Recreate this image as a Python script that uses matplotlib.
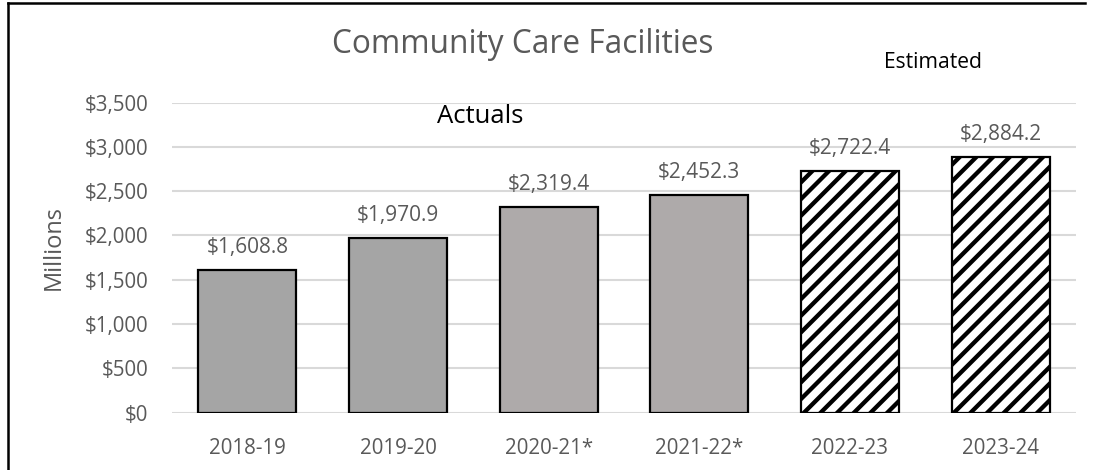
import matplotlib
matplotlib.use("Agg")
import matplotlib.pyplot as plt
from matplotlib.lines import Line2D

# Fiscal years and spending (millions of dollars)
years = ["2018-19", "2019-20", "2020-21*", "2021-22*", "2022-23", "2023-24"]
values = [1608.8, 1970.9, 2319.4, 2452.3, 2722.4, 2884.2]
estimated = [False, False, False, False, True, True]
fill_colors = ["#a5a5a5", "#a5a5a5", "#aeaaaa", "#aeaaaa", "white", "white"]

y_ticks = [0, 500, 1000, 1500, 2000, 2500, 3000, 3500]

plt.rcParams["font.family"] = ["Open Sans", "DejaVu Sans"]
plt.rcParams["hatch.linewidth"] = 3.1
plt.rcParams["hatch.color"] = "black"

W, H = 1093, 470
fig = plt.figure(figsize=(W / 100, H / 100), dpi=100)

left, right, top, bottom = 172, 1076, 102.5, 412.6
ax = fig.add_axes([left / W, 1 - bottom / H, (right - left) / W, (bottom - top) / H])

grey_text = "#595959"
x = range(len(years))
for i, (v, est, fc) in enumerate(zip(values, estimated, fill_colors)):
    ax.bar(i, v, width=0.65, color=fc, edgecolor="black", linewidth=1.6,
           hatch="//" if est else None, zorder=3)
    ax.annotate(f"${v:,.1f}", (i, v), xytext=(0, 12.3), textcoords="offset points",
                ha="center", va="baseline", fontsize=15, color=grey_text)

ax.set_xlim(-0.5, len(years) - 0.5)
ax.set_ylim(0, 3500)
ax.set_yticks(y_ticks)
ax.set_yticklabels([f"${t:,}" for t in y_ticks])
ax.set_xticks(list(x))
ax.set_xticklabels(years)
ax.tick_params(axis="both", length=0, labelsize=14.8, colors=grey_text)
ax.tick_params(axis="y", pad=17)
ax.tick_params(axis="x", pad=18)
ax.grid(axis="y", color="#d9d9d9", linewidth=1.5, zorder=0)
for s in ax.spines.values():
    s.set_visible(False)

fig.text(54 / W, 1 - 247 / H, "Millions", rotation=90, ha="center", va="center",
         fontsize=17, color=grey_text)
fig.text(523 / W, 1 - 53 / H, "Community Care Facilities", ha="center", va="baseline",
         fontsize=22.8, color=grey_text)
fig.text(480 / W, 1 - 123.3 / H, "Actuals", ha="center", va="baseline",
         fontsize=18.5, color="black")
fig.text(933 / W, 1 - 68.3 / H, "Estimated", ha="center", va="baseline",
         fontsize=15.2, color="black")

# Chart frame (top and left edges)
fig.add_artist(Line2D([8 / W, 8 / W], [0, 1 - 3 / H], transform=fig.transFigure,
                      color="black", linewidth=1.8))
fig.add_artist(Line2D([8 / W, 1085 / W], [1 - 3 / H, 1 - 3 / H], transform=fig.transFigure,
                      color="black", linewidth=1.8))

fig.savefig("out.png", dpi=100)
